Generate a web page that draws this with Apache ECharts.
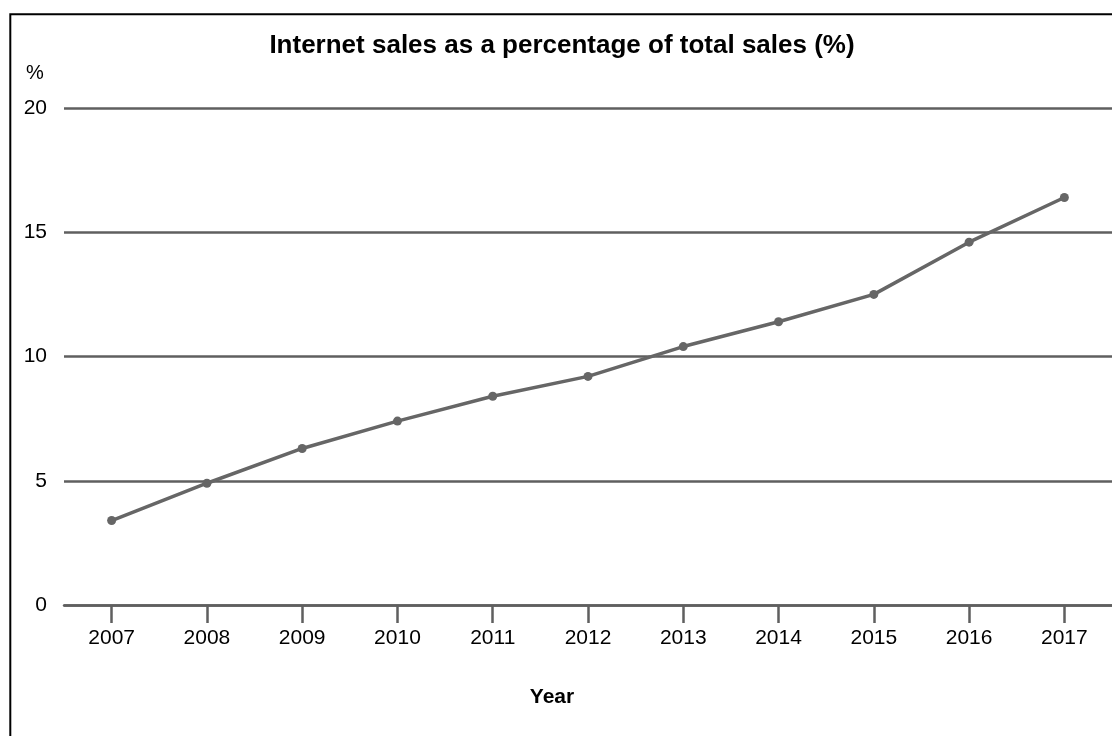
<!DOCTYPE html>
<html>
<head>
<meta charset="utf-8">
<script src="https://cdn.jsdelivr.net/npm/echarts@6/dist/echarts.min.js"></script>
<style>
    html, body { margin: 0; padding: 0; background: #fff; }
    #chart { width: 1112px; height: 736px; }
</style>
</head>
<body>
<div id="chart"></div>
<script>
// data
var years = ['2007', '2008', '2009', '2010', '2011', '2012', '2013', '2014', '2015', '2016', '2017'];
var internetShare = [3.4, 4.9, 6.3, 7.4, 8.4, 9.2, 10.4, 11.4, 12.5, 14.6, 16.4];
var yTicks = [0, 5, 10, 15, 20];

var titleText = 'Internet sales as a percentage of total sales (%)';
var fontName = 'Liberation Sans, Arial, sans-serif';
var gray = '#5f5f5f';

var chart = echarts.init(document.getElementById('chart'));

var option = {
    backgroundColor: '#fff',
    animation: false,
    textStyle: { fontFamily: fontName },
    grid: {
        left: 64,
        top: 108,
        width: 1052,
        bottom: 131
    },
    graphic: [
        {   // outer frame
            type: 'rect',
            shape: { x: 10.3, y: 14.3, width: 1120, height: 740 },
            style: { fill: 'none', stroke: '#000', lineWidth: 2 }
        },
        {
            type: 'text',
            x: 562, y: 46,
            style: {
                text: titleText, fill: '#000',
                font: 'bold 26px ' + fontName,
                align: 'center', verticalAlign: 'middle'
            }
        },
        {
            type: 'text',
            x: 35, y: 73,
            style: {
                text: '%', fill: '#000',
                font: '20px ' + fontName,
                align: 'center', verticalAlign: 'middle'
            }
        },
        {
            type: 'text',
            x: 552, y: 697,
            style: {
                text: 'Year', fill: '#000',
                font: 'bold 21px ' + fontName,
                align: 'center', verticalAlign: 'middle'
            }
        }
    ],
    xAxis: {
        type: 'category',
        data: years,
        boundaryGap: true,
        axisLine: { show: true, lineStyle: { color: gray, width: 2.5 } },
        axisTick: { show: true, alignWithLabel: true, length: 18, lineStyle: { color: gray, width: 2.5 } },
        axisLabel: { color: '#000', fontSize: 21, margin: 23 },
        splitLine: { show: false }
    },
    yAxis: {
        type: 'value',
        min: yTicks[0],
        max: yTicks[yTicks.length - 1],
        interval: yTicks[1] - yTicks[0],
        axisLine: { show: false },
        axisTick: { show: false },
        axisLabel: { color: '#000', fontSize: 21, margin: 17 },
        splitLine: { show: true, lineStyle: { color: gray, width: 2.5 } }
    },
    series: [{
        name: 'Internet sales',
        type: 'line',
        data: internetShare,
        symbol: 'circle',
        symbolSize: 9,
        lineStyle: { color: '#666', width: 3.5 },
        itemStyle: { color: '#666' }
    }]
};

chart.setOption(option);
</script>
</body>
</html>
